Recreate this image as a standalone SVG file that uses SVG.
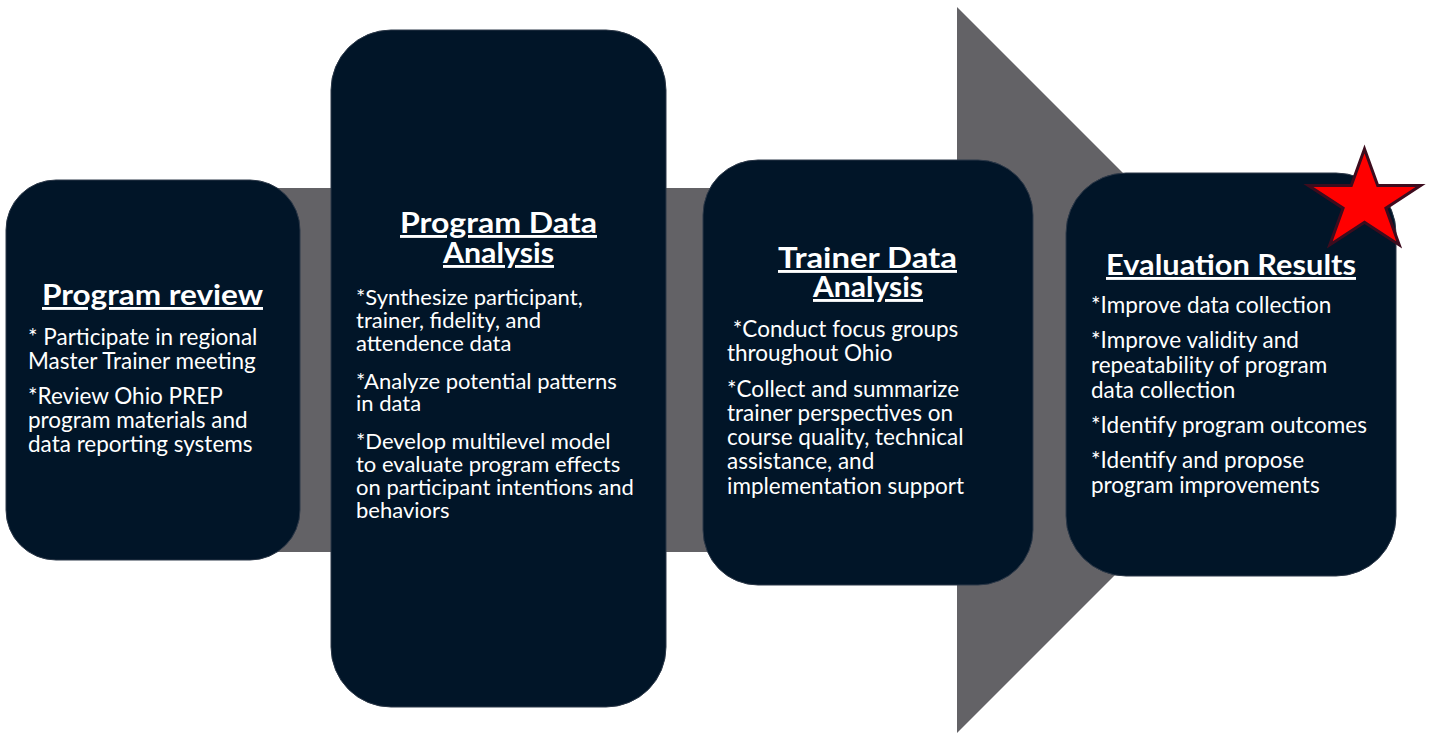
<svg xmlns="http://www.w3.org/2000/svg" width="1429" height="734" viewBox="0 0 1429 734">
<defs>
<style>
.box{fill:#011528;stroke:#2c3848;stroke-width:1}
.t{font-family:Lato,"Liberation Sans",sans-serif;font-weight:700;font-size:29px;fill:#ffffff;text-anchor:middle;text-decoration:underline}
.b{font-family:Lato,"Liberation Sans",sans-serif;font-size:22.5px;fill:#ffffff}
.b2{font-family:Lato,"Liberation Sans",sans-serif;font-size:22px;fill:#ffffff}
</style>
</defs>
<rect width="1429" height="734" fill="#ffffff"/>
<g id="connectors">
<polygon points="200,188 957,188 957,7 1320,370 957,733 957,552 200,552" fill="#636266"/>
</g>
<g id="node-program-review">
<rect class="box" x="6" y="180" width="294" height="380" rx="50"/>
<text class="t" x="152.5" y="305" textLength="221" lengthAdjust="spacingAndGlyphs">Program review</text>
<text class="b" x="28" y="345">* Participate in regional</text>
<text class="b" x="28" y="369">Master Trainer meeting</text>
<text class="b" x="28" y="404">*Review Ohio PREP</text>
<text class="b" x="28" y="428">program materials and</text>
<text class="b" x="28" y="452">data reporting systems</text>
</g>
<g id="node-program-data-analysis">
<rect class="box" x="331" y="30" width="335" height="677" rx="60"/>
<text class="t" x="498.5" y="233" textLength="197" lengthAdjust="spacingAndGlyphs">Program Data</text>
<text class="t" x="498.5" y="263" textLength="111" lengthAdjust="spacingAndGlyphs">Analysis</text>
<text class="b2" x="356" y="305">*Synthesize participant,</text>
<text class="b2" x="356" y="328">trainer, fidelity, and</text>
<text class="b2" x="356" y="351">attendence data</text>
<text class="b2" x="356" y="389">*Analyze potential patterns</text>
<text class="b2" x="356" y="411">in data</text>
<text class="b2" x="356" y="449">*Develop multilevel model</text>
<text class="b2" x="356" y="472">to evaluate program effects</text>
<text class="b2" x="356" y="495">on participant intentions and</text>
<text class="b2" x="356" y="518">behaviors</text>
</g>
<g id="node-trainer-data-analysis">
<rect class="box" x="703" y="160" width="330" height="425" rx="55"/>
<text class="t" x="867.5" y="268" textLength="179" lengthAdjust="spacingAndGlyphs">Trainer Data</text>
<text class="t" x="868" y="297" textLength="110" lengthAdjust="spacingAndGlyphs">Analysis</text>
<text class="b" x="727" y="337" xml:space="preserve"> *Conduct focus groups</text>
<text class="b" x="727" y="361">throughout Ohio</text>
<text class="b" x="727" y="397">*Collect and summarize</text>
<text class="b" x="727" y="421">trainer perspectives on</text>
<text class="b" x="727" y="445">course quality, technical</text>
<text class="b" x="727" y="469">assistance, and</text>
<text class="b" x="727" y="494">implementation support</text>
</g>
<g id="node-evaluation-results">
<rect class="box" x="1066" y="173" width="330" height="403" rx="60"/>
<text class="t" x="1231" y="275" textLength="250" lengthAdjust="spacingAndGlyphs">Evaluation Results</text>
<text class="b" x="1091" y="313">*Improve data collection</text>
<text class="b" x="1091" y="348">*Improve validity and</text>
<text class="b" x="1091" y="373">repeatability of program</text>
<text class="b" x="1091" y="398">data collection</text>
<text class="b" x="1091" y="433">*Identify program outcomes</text>
<text class="b" x="1091" y="468">*Identify and propose</text>
<text class="b" x="1091" y="493">program improvements</text>
<polygon points="1364.5,149 1377.7,185.6 1420.6,185.6 1385.9,208.2 1399.2,244.9 1364.5,222.2 1329.8,244.9 1343.1,208.2 1308.4,185.6 1351.3,185.6" fill="#ff0000" stroke="#3d0c1e" stroke-width="3" stroke-linejoin="miter"/>
</g>
</svg>
